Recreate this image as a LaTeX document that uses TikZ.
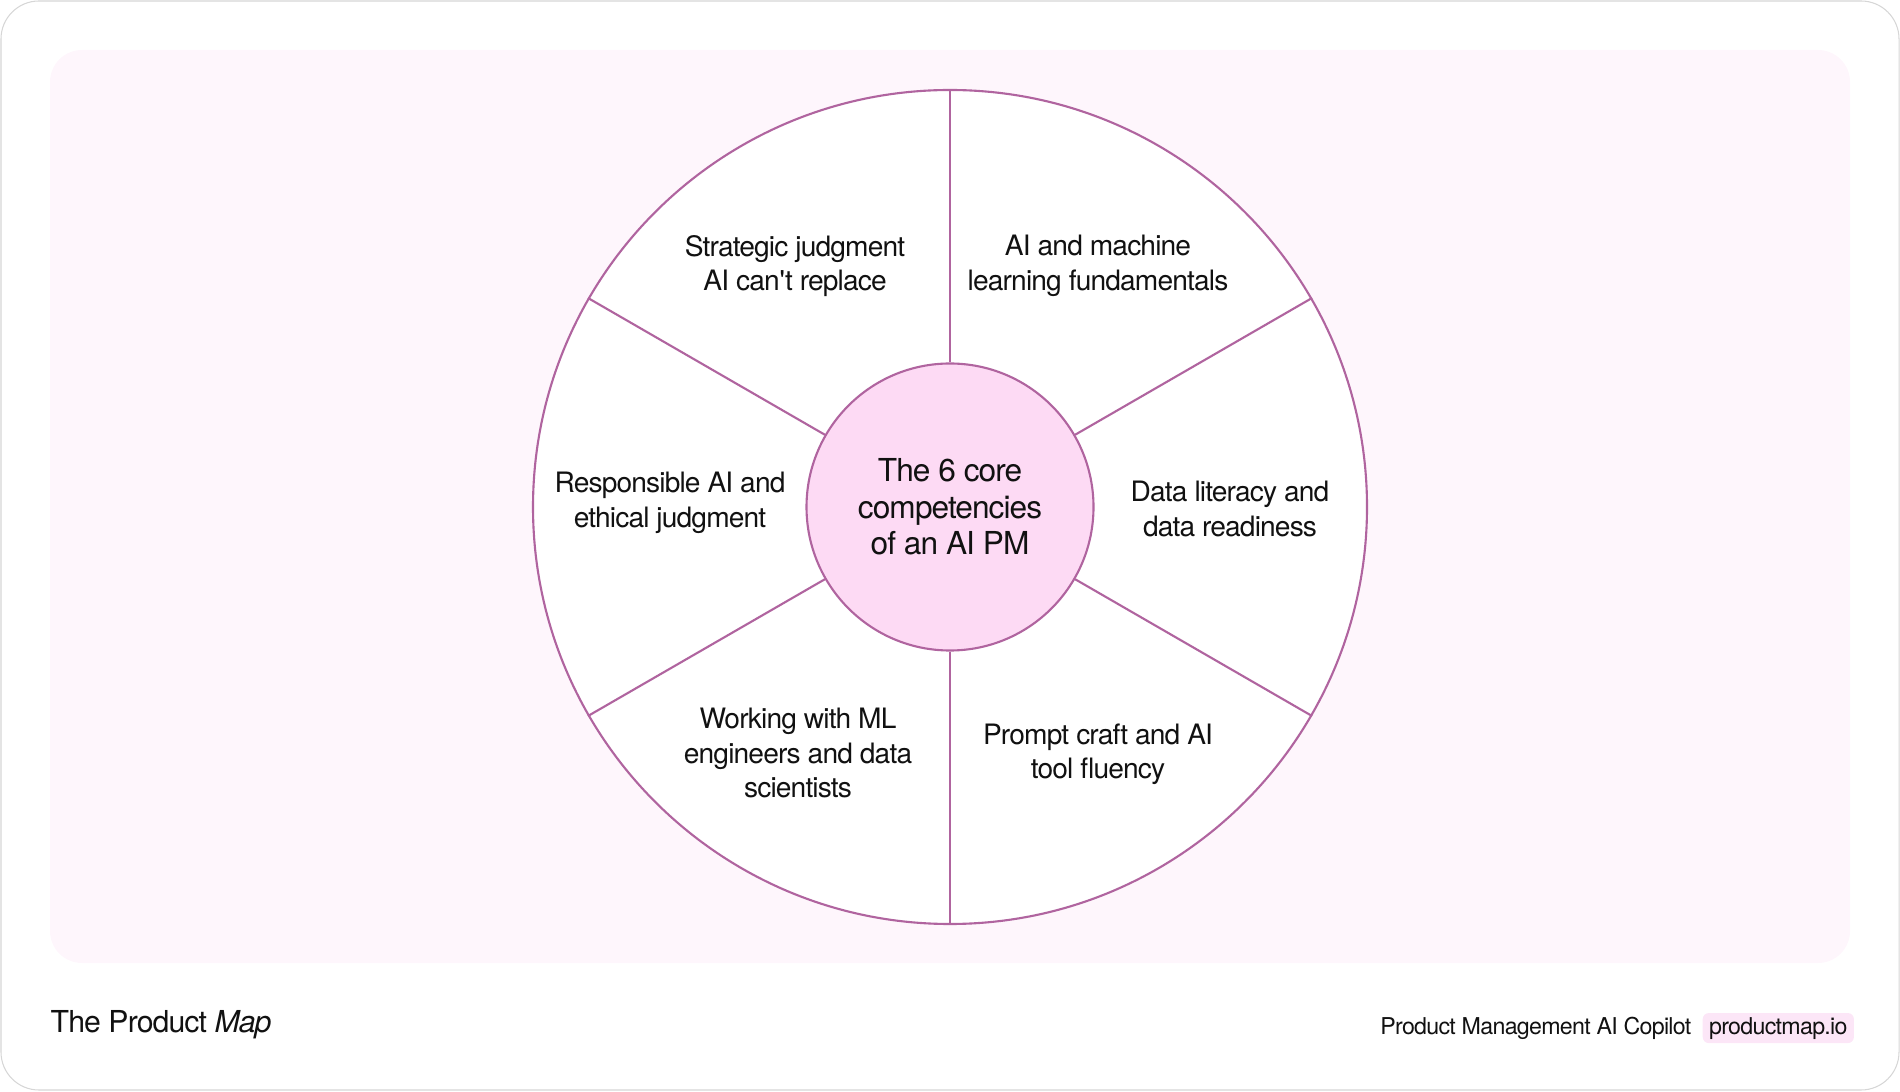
\documentclass[tikz,border=0pt]{standalone}
\usepackage{fontspec}
\setmainfont{TeX Gyre Heros}[LetterSpace=-3]
\usetikzlibrary{positioning}
\definecolor{rim}{HTML}{B0649F}
\definecolor{hubfill}{HTML}{FDDAF4}
\definecolor{panel}{HTML}{FEF6FC}
\definecolor{frame}{HTML}{D6D6D6}
\definecolor{pillfill}{HTML}{FCE6F7}
\definecolor{ink}{HTML}{111111}
\tikzset{
  every node/.style={text=ink},
  seglabel/.style={align=center,font=\fontsize{8}{9.8}\selectfont,inner sep=0pt},
  hub/.style={circle,draw=rim,line width=0.6pt,fill=hubfill,minimum size=2.87cm,inner sep=0pt,align=center,font=\fontsize{9}{10.4}\selectfont},
  wheel/.style={circle,draw=rim,line width=0.6pt,fill=white,minimum size=8.34cm,inner sep=0pt},
  spoke/.style={draw=rim,line width=0.6pt},
  brand/.style={font=\fontsize{8.6}{10}\selectfont,inner sep=0pt},
  tagline/.style={font=\fontsize{6.6}{7.8}\selectfont,inner sep=0pt},
  pill/.style={fill=pillfill,rounded corners=1.7pt,inner xsep=1.8pt,inner ysep=0pt,minimum height=0.3cm,font=\fontsize{6.6}{7.8}\selectfont},
}
\begin{document}
\begin{tikzpicture}[x=1cm,y=1cm]
  \useasboundingbox (0,0) rectangle (19,10.91);
  \draw[frame,line width=0.3pt,rounded corners=0.38cm] (0.01,0.01) rectangle (18.99,10.90);
  \fill[panel,rounded corners=0.32cm] (0.50,1.28) rectangle (18.50,10.41);

  % wheel and hub
  \node[wheel] (wheel) at (9.50,5.84) {};
  \node[hub] (hub) at (9.50,5.84) {The 6 core\\competencies\\of an AI PM};
  \foreach \a in {30,90,...,330}
    \draw[spoke] (hub.\a) -- (wheel.\a);

  % segment labels
  \node[seglabel] (strategy) at (7.95,8.25) {Strategic judgment\\AI can\textquotesingle t replace};
  \node[seglabel] (mlbasics) at (10.98,8.25) {AI and machine\\learning fundamentals};
  \node[seglabel] (dataread) at (12.30,5.82) {Data literacy and\\data readiness};
  \node[seglabel] (prompting) at (10.98,3.37) {Prompt craft and AI\\tool fluency};
  \node[seglabel] (teamwork) at (7.98,3.38) {Working with ML\\engineers and data\\scientists};
  \node[seglabel] (ethics) at (6.70,5.88) {Responsible AI and\\ethical judgment};

  % footer
  \node[brand,anchor=base west] (brand) at (0.50,0.59) {The Product \textit{Map}};
  \node[tagline,anchor=base east] (copilot) at (16.92,0.57) {Product Management AI Copilot};
  \node[pill,anchor=base west] (site) at ([xshift=0.10cm]copilot.base east) {productmap.io};
\end{tikzpicture}
\end{document}
